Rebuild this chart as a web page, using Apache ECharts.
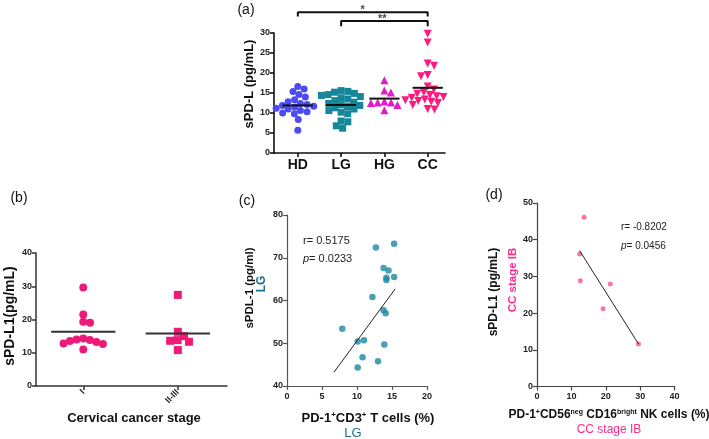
<!DOCTYPE html>
<html>
<head>
<meta charset="utf-8">
<script src="https://cdn.jsdelivr.net/npm/echarts@6/dist/echarts.min.js"></script>
<style>html,body{margin:0;padding:0;background:#fff}#c{width:709px;height:439px}</style>
</head>
<body>
<div id="c"></div>
<script>
// ---------- data ----------
const catsA = ['HD', 'LG', 'HG', 'CC'];
const hdVals = [16.6, 16.0, 15.4, 14.6, 14.0, 13.3, 12.8, 12.4, 12.1, 11.9, 11.7, 11.5, 11.2, 11.0, 10.6, 10.3, 10.0, 9.8, 8.4, 5.7];
const lgVals = [15.6, 15.4, 15.2, 14.9, 14.6, 14.4, 14.1, 13.8, 13.5, 13.1, 12.7, 12.4, 12.1, 11.9, 11.6, 11.3, 11.0, 10.6, 10.2, 9.8, 8.0, 7.8, 6.8, 6.2];
const hgVals = [18.2, 15.6, 15.1, 12.9, 12.6, 12.6, 12.5, 12.0, 10.7];
const ccVals = [29.8, 27.6, 22.4, 21.8, 19.5, 19.2, 16.6, 15.9, 15.2, 14.8, 14.5, 14.2, 14.0, 13.8, 13.6, 13.4, 13.2, 13.0, 12.8, 12.5, 12.0, 11.0, 10.9];
const meansA = [11.9, 12.0, 13.6, 16.3];
const starLabels = ['*', '**'];
const bracketA1 = [[0, 34.1], [0, 35.2], [3, 35.2], [3, 34.1]];
const bracketA2 = [[1, 31.7], [1, 33.0], [3, 33.0], [3, 31.7]];
const starPos = [[1.5, 35.2], [1.95, 33.0]];

const catsB = ['I', 'II-III'];
const stageIVals = [29.6, 21.5, 19.3, 19.0, 14.3, 14.0, 13.8, 13.5, 13.2, 12.8, 12.6, 11.0];
const stageIIVals = [27.4, 16.3, 15.0, 13.6, 13.3, 13.8, 10.8];
const meansB = [16.3, 15.8];

const cX = [12.7, 15.3, 13.8, 14.5, 14.2, 14.2, 15.3, 12.2, 13.8, 14.1, 7.9, 10.1, 11.0, 13.9, 10.8, 13.0, 10.1];
const cY = [72.4, 73.3, 67.6, 67.0, 65.3, 64.8, 65.5, 60.8, 57.7, 57.0, 53.4, 50.4, 50.7, 49.7, 46.7, 45.8, 44.3];
const fitCX = [6.7, 15.45];
const fitCY = [43.2, 62.7];

const dX = [13.7, 12.4, 12.6, 21.3, 19.2, 29.5];
const dY = [46.1, 36.1, 28.8, 27.9, 21.2, 11.6];
const fitDX = [12.4, 29.5];
const fitDY = [37.0, 11.6];

// ---------- helpers ----------
const FONT = '"Liberation Sans", Arial, Helvetica, sans-serif';

function swarm(vals, pxY, pxX, d) {
  const order = vals.map((v, i) => i).sort((a, b) => vals[b] - vals[a]);
  const placed = [];
  const offs = new Array(vals.length);
  let flip = 1;
  order.forEach(i => {
    const y = vals[i] * pxY;
    const iv = [];
    placed.forEach(p => {
      const dy = Math.abs(p.y - y);
      if (dy < d) { const w = Math.sqrt(d * d - dy * dy); iv.push([p.x - w, p.x + w]); }
    });
    const c = [0];
    iv.forEach(([a, b]) => c.push(a, b));
    c.sort((a, b) => (Math.abs(a) - Math.abs(b)) || (flip * (b - a)));
    let best = 0;
    for (const x of c) {
      if (iv.every(([a, b]) => x <= a + 1e-6 || x >= b - 1e-6)) { best = x; break; }
    }
    if (best !== 0) flip = -flip;
    placed.push({ x: best, y });
    offs[i] = best / pxX;
  });
  return offs;
}

const series = [];
function group(axis, vals, pos, symbol, size, color, rot, pxY, pxX, d) {
  const offs = swarm(vals, pxY, pxX, d);
  series.push({
    type: 'scatter', xAxisIndex: axis, yAxisIndex: axis,
    symbol: symbol, symbolSize: size, symbolRotate: rot || 0,
    itemStyle: { color: color, opacity: 1 },
    data: vals.map((v, i) => [pos + offs[i], v]),
    silent: true, z: 2
  });
}
function meanLine(axis, pos, m, half, color, w) {
  series.push({
    type: 'line', xAxisIndex: axis, yAxisIndex: axis, showSymbol: false, symbol: 'none',
    lineStyle: { color: color, width: w }, data: [[pos - half, m], [pos + half, m]], silent: true, z: 3
  });
}

// panel (a)
const pxYA = 4, pxXA = 43.3;
group(0, hdVals, 0, 'circle', 7, '#4b4bf2', 0, pxYA, pxXA, 6.8);
group(0, lgVals, 1, 'rect', 7, '#15879b', 0, pxYA, pxXA, 6.8);
group(0, hgVals, 2, 'triangle', 8, '#e01bc8', 0, pxYA, pxXA, 6.8);
group(0, ccVals, 3, 'triangle', 8, '#ff1a80', 180, pxYA, pxXA, 6.8);
meansA.forEach((m, i) => meanLine(0, i, m, 0.35, '#111', 2));
[bracketA1, bracketA2].forEach(b => series.push({
  type: 'line', xAxisIndex: 0, yAxisIndex: 0, symbol: 'none', clip: false,
  lineStyle: { color: '#111', width: 2 }, data: b, silent: true, z: 3
}));
series.push({
  type: 'scatter', xAxisIndex: 0, yAxisIndex: 0, symbolSize: 0, clip: false, silent: true,
  data: starPos.map((p, i) => ({ value: p, name: starLabels[i] })),
  label: { show: true, position: 'inside', offset: [0, -2], formatter: p => p.name,
    fontFamily: FONT, fontSize: 11, fontWeight: 'bold', color: '#111' }
});

// panel (b)
const pxYB = 3.31, pxXB = 94.5;
group(1, stageIVals, 0, 'circle', 8, '#ee1a78', 0, pxYB, pxXB, 6.8);
group(1, stageIIVals, 1, 'rect', 8, '#ee1a78', 0, pxYB, pxXB, 7.5);
meansB.forEach((m, i) => meanLine(1, i, m, 0.34, '#333', 2));

// panel (c)
series.push({
  type: 'scatter', xAxisIndex: 2, yAxisIndex: 2, symbolSize: 6.5,
  itemStyle: { color: '#1a8aa0' }, data: cX.map((x, i) => [x, cY[i]]), silent: true
});
series.push({
  type: 'line', xAxisIndex: 2, yAxisIndex: 2, symbol: 'none',
  lineStyle: { color: '#222', width: 1 }, data: fitCX.map((x, i) => [x, fitCY[i]]), silent: true
});

// panel (d)
series.push({
  type: 'scatter', xAxisIndex: 3, yAxisIndex: 3, symbolSize: 5, clip: false,
  itemStyle: { color: '#f25590' }, data: dX.map((x, i) => [x, dY[i]]), silent: true
});
series.push({
  type: 'line', xAxisIndex: 3, yAxisIndex: 3, symbol: 'none',
  lineStyle: { color: '#222', width: 1 }, data: fitDX.map((x, i) => [x, fitDY[i]]), silent: true
});

// ---------- axes ----------
function axisCommon(lw, color) {
  return {
    axisLine: { show: true, onZero: false, lineStyle: { color: color, width: lw } },
    axisTick: { show: true, inside: false, length: 4, lineStyle: { color: color, width: lw } },
    splitLine: { show: false }
  };
}
const lblSmall = { fontFamily: FONT, fontSize: 9, fontWeight: 'bold', color: '#222', margin: 4 };

const xAxis = [
  Object.assign(axisCommon(1.6, '#111'), {
    type: 'value', gridIndex: 0, min: -0.55, max: 3.4,
    axisTick: { show: true, length: 4, customValues: [0, 1, 2, 3], lineStyle: { color: '#111', width: 1.6 } },
    axisLabel: { customValues: [0, 1, 2, 3], formatter: v => catsA[Math.round(v)],
      fontFamily: FONT, fontSize: 14, fontWeight: 'bold', color: '#111', margin: 5 }
  }),
  Object.assign(axisCommon(1.5, '#333'), {
    type: 'value', gridIndex: 1, min: -0.5, max: 1.52,
    axisTick: { show: true, length: 4, customValues: [0, 1], lineStyle: { color: '#333', width: 1.5 } },
    axisLabel: { customValues: [0, 1], formatter: v => catsB[Math.round(v)], rotate: 45,
      fontFamily: FONT, fontSize: 9, fontWeight: 'bold', color: '#222', margin: 5 }
  }),
  Object.assign(axisCommon(1.2, '#555'), {
    type: 'value', gridIndex: 2, min: 0, max: 20, interval: 5, axisLabel: Object.assign({}, lblSmall, { margin: 6 })
  }),
  Object.assign(axisCommon(1.2, '#444'), {
    type: 'value', gridIndex: 3, min: 0, max: 40, interval: 10, axisLabel: Object.assign({}, lblSmall, { margin: 6 })
  })
];
const yAxis = [
  Object.assign(axisCommon(1.6, '#111'), { type: 'value', gridIndex: 0, min: 0, max: 30, interval: 5, axisLabel: lblSmall }),
  Object.assign(axisCommon(1.5, '#333'), { type: 'value', gridIndex: 1, min: 0, max: 40, interval: 10, axisLabel: lblSmall }),
  Object.assign(axisCommon(1.2, '#555'), { type: 'value', gridIndex: 2, min: 40, max: 80, interval: 10, axisLabel: lblSmall }),
  Object.assign(axisCommon(1.2, '#444'), { type: 'value', gridIndex: 3, min: 0, max: 50, interval: 10, axisLabel: lblSmall })
];

// ---------- texts ----------
function txt(x, y, text, opts) {
  return Object.assign({ type: 'text', x: x, y: y, silent: true,
    style: Object.assign({ text: text, fontFamily: FONT, fill: '#111', align: 'center', verticalAlign: 'middle' }, opts.style || {}) },
    opts.rotation ? { rotation: opts.rotation } : {});
}
const V = Math.PI / 2;
const sup = { fontSize: 8, fontWeight: 'bold', fontFamily: FONT, fill: '#111', verticalAlign: 'top', padding: [0, 0, 6, 0] };
const mainB = { fontSize: 13, fontWeight: 'bold', fontFamily: FONT, fill: '#111' };
const mainD = { fontSize: 12, fontWeight: 'bold', fontFamily: FONT, fill: '#111' };
const supD = Object.assign({}, sup, { fontSize: 7 });

const graphic = [
  txt(246, 10, '(a)', { style: { fontSize: 14 } }),
  txt(19, 198, '(b)', { style: { fontSize: 14 } }),
  txt(247, 201, '(c)', { style: { fontSize: 14 } }),
  txt(494, 195, '(d)', { style: { fontSize: 14 } }),
  txt(249, 84, 'sPD-L (pg/mL)', { rotation: V, style: { fontSize: 13, fontWeight: 'bold' } }),
  txt(10, 316, 'sPD-L1(pg/mL)', { rotation: V, style: { fontSize: 14, fontWeight: 'bold' } }),
  txt(134, 418, 'Cervical cancer stage', { style: { fontSize: 13, fontWeight: 'bold' } }),
  txt(250, 288, 'sPDL-1 (pg/ml)', { rotation: V, style: { fontSize: 11.5, fontWeight: 'bold' } }),
  txt(262, 284, 'LG', { rotation: V, style: { fontSize: 12, fontWeight: 'bold', fill: '#1a7090' } }),
  txt(368, 418, '{m|PD-1}{s|+}{m|CD3}{s|+}{m| T cells (%)}', { style: { rich: { m: mainB, s: sup } } }),
  txt(353, 433, 'LG', { style: { fontSize: 13, fill: '#1a7090' } }),
  txt(494, 292, 'sPD-L1 (pg/mL)', { rotation: V, style: { fontSize: 12, fontWeight: 'bold' } }),
  txt(513, 280, 'CC stage IB', { rotation: V, style: { fontSize: 11.5, fontWeight: 'bold', fill: '#ff2a8c' } }),
  txt(609, 415, '{m|PD-1}{s|+}{m|CD56}{s|neg}{m| CD16}{s|bright}{m| NK cells (%)}', { style: { rich: { m: mainD, s: supD } } }),
  txt(609, 430, 'CC stage IB', { style: { fontSize: 12, fill: '#ff2a8c' } }),
  txt(303, 241, 'r= 0.5175', { style: { fontSize: 11, align: 'left', fill: '#222' } }),
  txt(303, 259, '{i|p}= 0.0233', { style: { fontSize: 11, align: 'left', fill: '#222', rich: { i: { fontStyle: 'italic', fontSize: 11, fontFamily: FONT, fill: '#222' } } } }),
  txt(621, 227, 'r= -0.8202', { style: { fontSize: 10, align: 'left', fill: '#222' } }),
  txt(621, 246, '{i|p}= 0.0456', { style: { fontSize: 10, align: 'left', fill: '#222', rich: { i: { fontStyle: 'italic', fontSize: 10, fontFamily: FONT, fill: '#222' } } } })
];

const chart = echarts.init(document.getElementById('c'), null, { renderer: 'canvas' });
chart.setOption({
  backgroundColor: '#fff',
  animation: false,
  grid: [
    { left: 274, top: 33, width: 171, height: 120 },
    { left: 36, top: 253, width: 191, height: 133 },
    { left: 287, top: 215, width: 140, height: 171 },
    { left: 537, top: 203, width: 137.6, height: 183.5 }
  ],
  xAxis: xAxis,
  yAxis: yAxis,
  series: series,
  graphic: graphic
});
</script>
</body>
</html>
